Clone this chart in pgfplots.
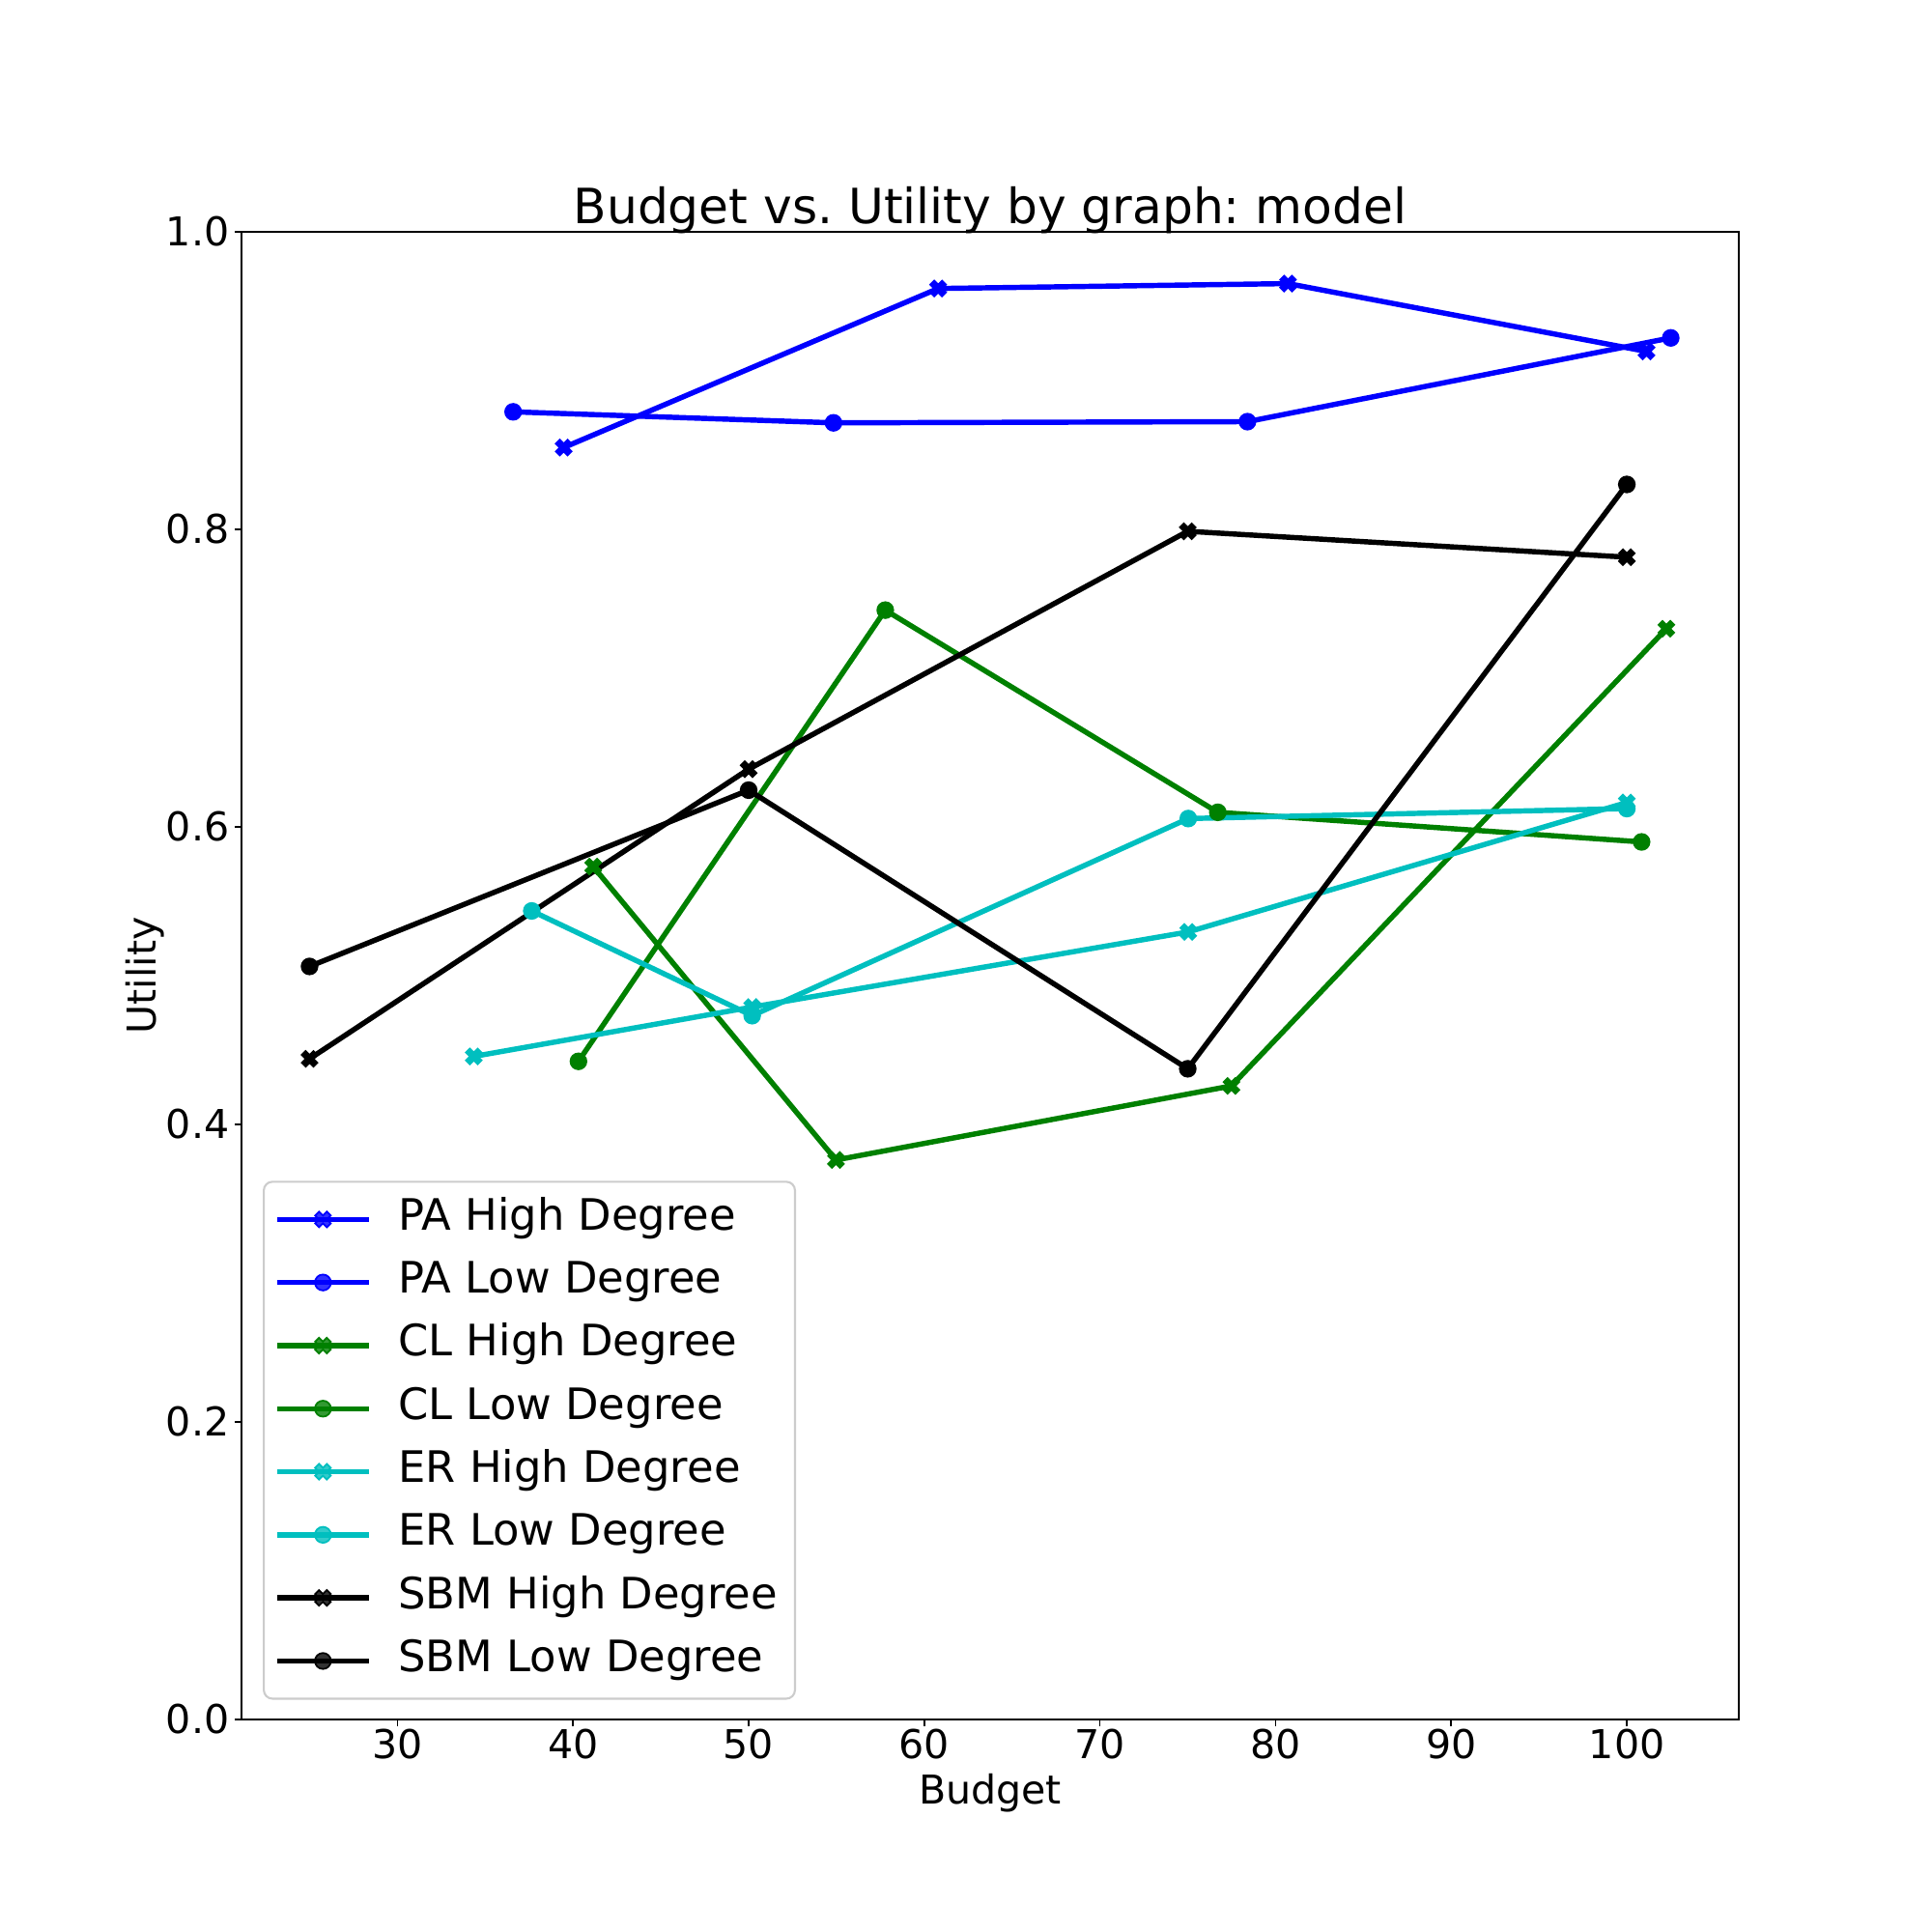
\documentclass[border=0pt]{standalone}
\usepackage{fontspec}
\setmainfont{DejaVu Sans}
\usepackage{pgfplots}
\pgfplotsset{compat=1.18}
\definecolor{mplblue}{rgb}{0,0,1}
\definecolor{mplgreen}{rgb}{0,0.5,0}
\definecolor{mplcyan}{rgb}{0,0.75,0.75}
\definecolor{legframe}{rgb}{0.8,0.8,0.8}
\pgfdeclareplotmark{Xf}{%
  \pgfpathmoveto{\pgfqpoint{-0.5\pgfplotmarksize}{-1\pgfplotmarksize}}%
  \pgfpathlineto{\pgfqpoint{0pt}{-0.5\pgfplotmarksize}}%
  \pgfpathlineto{\pgfqpoint{0.5\pgfplotmarksize}{-1\pgfplotmarksize}}%
  \pgfpathlineto{\pgfqpoint{1\pgfplotmarksize}{-0.5\pgfplotmarksize}}%
  \pgfpathlineto{\pgfqpoint{0.5\pgfplotmarksize}{0pt}}%
  \pgfpathlineto{\pgfqpoint{1\pgfplotmarksize}{0.5\pgfplotmarksize}}%
  \pgfpathlineto{\pgfqpoint{0.5\pgfplotmarksize}{1\pgfplotmarksize}}%
  \pgfpathlineto{\pgfqpoint{0pt}{0.5\pgfplotmarksize}}%
  \pgfpathlineto{\pgfqpoint{-0.5\pgfplotmarksize}{1\pgfplotmarksize}}%
  \pgfpathlineto{\pgfqpoint{-1\pgfplotmarksize}{0.5\pgfplotmarksize}}%
  \pgfpathlineto{\pgfqpoint{-0.5\pgfplotmarksize}{0pt}}%
  \pgfpathlineto{\pgfqpoint{-1\pgfplotmarksize}{-0.5\pgfplotmarksize}}%
  \pgfpathclose
  \pgfusepathqfillstroke
}
\pgfplotsset{
  hi/.style={color=#1, line width=1.55pt, mark=Xf, mark size=2.3pt,
    mark options={solid, draw=#1, fill=#1, line width=0.5pt}},
  lo/.style={color=#1, line width=1.55pt, mark=*, mark size=2.35pt,
    mark options={solid, draw=#1, fill=#1, line width=0.5pt}},
}
\newcommand{\lpad}{\hspace*{0.07cm}}
\frenchspacing
\begin{document}
\begin{tikzpicture}
\useasboundingbox (0,0) rectangle (20cm,20cm);
\begin{axis}[
  at={(2.5cm,2.2cm)}, anchor=south west,
  scale only axis, width=15.5cm, height=15.4cm,
  xmin=21.125, xmax=106.375, ymin=0, ymax=1,
  axis line style={line width=0.45pt},
  tick align=outside, tick pos=left,
  major tick length=0.07cm,
  every tick/.style={black, line width=0.45pt},
  xtick={30,40,50,60,70,80,90,100},
  ytick={0,0.2,0.4,0.6,0.8,1.0},
  /pgf/number format/assume math mode=true,
  ticklabel style={font=\fontsize{11.7}{14}\selectfont},
  xticklabel style={anchor=base, inner sep=0pt, yshift=-0.336cm},
  yticklabel style={anchor=east, inner sep=0pt, xshift=-0.05cm,
    /pgf/number format/fixed, /pgf/number format/fixed zerofill, /pgf/number format/precision=1},
  xlabel={Budget}, ylabel={Utility},
  label style={font=\fontsize{11.7}{14}\selectfont},
  xlabel style={at={(axis description cs:0.5,-0.0565)}, anchor=base, inner sep=0pt},
  ylabel style={at={(axis description cs:-0.0568,0.5)}, anchor=base, inner sep=0pt},
  title={Budget vs. Utility by graph: model},
  every axis title shift=0pt,
  title style={font=\fontsize{14.3}{17}\selectfont, at={(axis description cs:0.5,1.0058)}, anchor=base, inner sep=0pt},
  legend cell align=left,
  legend image code/.code={\draw[mark repeat=2,mark phase=2] plot coordinates {(0cm,0cm) (0.475cm,0cm) (0.95cm,0cm)};},
  legend style={at={(rel axis cs:0.0142,0.0133)}, anchor=south west,
    draw=legframe, line width=0.6pt, rounded corners=0.09cm, fill=white, fill opacity=0.8, text opacity=1,
    inner xsep=0.11cm, inner ysep=0.18cm, row sep=0.233cm, column sep=0.28cm,
    font=\fontsize{12.75}{15}\selectfont,
    nodes={inner sep=0pt, text height=0.32cm, text depth=0.10cm}},
]
\addplot[hi=mplblue] coordinates {(39.47,0.855) (60.79,0.9619) (80.71,0.9652) (101.12,0.9196)};
\addlegendentry{PA High Degree\lpad}
\addplot[lo=mplblue] coordinates {(36.59,0.879) (54.83,0.8716) (78.40,0.8724) (102.5,0.9287)};
\addlegendentry{PA Low Degree\lpad}
\addplot[hi=mplgreen] coordinates {(41.15,0.5733) (54.97,0.3761) (77.49,0.4259) (102.25,0.7332)};
\addlegendentry{CL High Degree\lpad}
\addplot[lo=mplgreen] coordinates {(40.31,0.4424) (57.78,0.7457) (76.71,0.6098) (100.84,0.5899)};
\addlegendentry{CL Low Degree\lpad}
\addplot[hi=mplcyan] coordinates {(34.35,0.4457) (50.2,0.4789) (75.03,0.5294) (100,0.6164)};
\addlegendentry{ER High Degree\lpad}
\addplot[lo=mplcyan] coordinates {(37.65,0.5435) (50.2,0.4731) (75.03,0.6056) (100,0.6123)};
\addlegendentry{ER Low Degree\lpad}
\addplot[hi=black] coordinates {(25.0,0.4441) (50.0,0.6388) (75.0,0.7987) (100,0.7813)};
\addlegendentry{SBM High Degree\lpad}
\addplot[lo=black] coordinates {(25.0,0.5062) (50.0,0.6247) (75.0,0.4374) (100,0.8302)};
\addlegendentry{SBM Low Degree\lpad}
\end{axis}
\end{tikzpicture}
\end{document}
